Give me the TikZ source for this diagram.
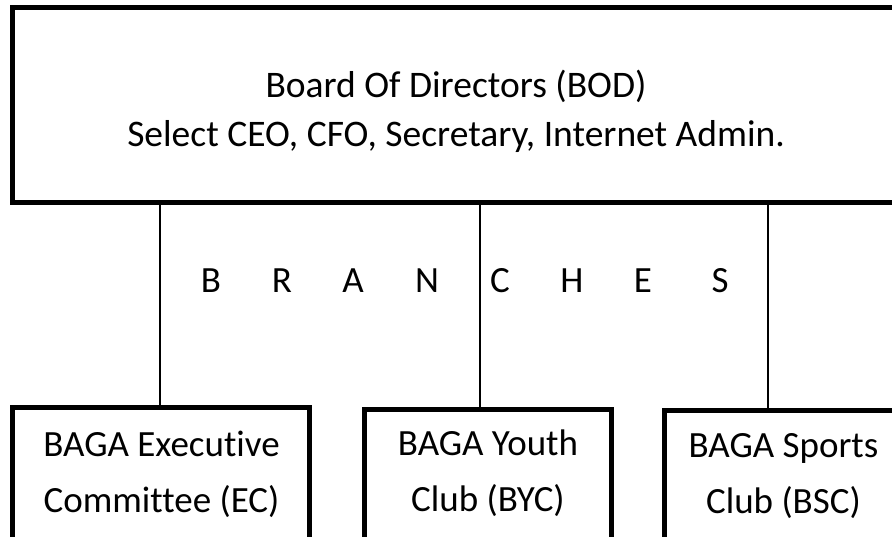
\documentclass[tikz,border=0pt]{standalone}
\usepackage{fontspec}
\setmainfont{Carlito}[Ligatures=NoCommon]
\usetikzlibrary{calc}
\tikzset{%
  unitbox/.style  = {shape=rectangle, draw, line width=5.5pt,%
                     inner sep=0pt, outer sep=0pt, anchor=north west},%
  unittext/.style = {align=center, inner sep=0pt,%
                     font=\fontsize{37}{56}\selectfont},%
  bodtext/.style  = {unittext, font=\fontsize{37.5}{49}\selectfont},%
  letter/.style   = {inner sep=0pt, anchor=base,%
                     font=\fontsize{37}{40}\selectfont},%
  branch/.style   = {draw, line width=1.6pt}%
}
\begin{document}
\begin{tikzpicture}[x=1pt,y=-1pt]
	\useasboundingbox (0,0) rectangle (892,536);
	% boxes
	\node[unitbox, minimum width=887pt, minimum height=195pt] (bod) at (12.5,7.5) {};
	\node[unitbox, minimum width=297pt, minimum height=150pt] (ec) at (12.5,407.5) {};
	\node[unitbox, minimum width=247pt, minimum height=150pt] (byc) at (364.5,409.5) {};
	\node[unitbox, minimum width=240pt, minimum height=150pt] (bsc) at (664.5,410.5) {};
	% texts
	\node[bodtext] (bodlbl) at (456,111) {Board Of Directors (BOD)\\Select CEO, CFO, Secretary, Internet Admin.};
	\node[unittext] (eclbl) at (161.5,474) {BAGA Executive\\Committee (EC)};
	\node[unittext] (byclbl) at (488,473) {BAGA Youth\\Club (BYC)};
	\node[unittext] (bsclbl) at (783.5,476) {BAGA Sports\\Club (BSC)};
	% branches
	\coordinate (c1) at (160,0);
	\coordinate (c2) at (480,0);
	\coordinate (c3) at (768,0);
	\draw[branch] (bod.south -| c1) -- (ec.north -| c1);
	\draw[branch] (bod.south -| c2) -- (byc.north -| c2);
	\draw[branch] (bod.south -| c3) -- (bsc.north -| c3);
	\foreach \ch/\x in {B/211,R/282,A/353,N/427,C/500,H/572,E/643,S/720}
		\node[letter] (br\ch) at (\x,292) {\ch};
\end{tikzpicture}
\end{document}
